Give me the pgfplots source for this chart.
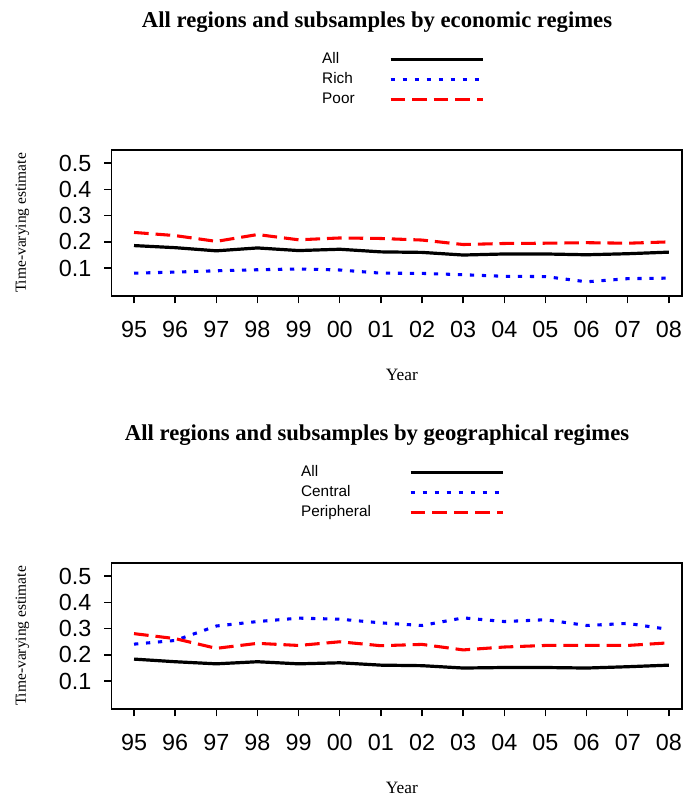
\documentclass[border=0pt]{standalone}
\usepackage{pgfplots}
\pgfplotsset{compat=1.18}
\usepackage{fontspec}
\setmainfont{Liberation Serif}
\newfontfamily\arialfont{Liberation Sans}

\pgfplotsset{
  regstyle/.style={
    scale only axis, width=428pt, height=109.5pt,
    xmin=-0.55, xmax=13.32, ymin=-0.006, ymax=0.55,
    xtick={0,...,13},
    xticklabels={95,96,97,98,99,00,01,02,03,04,05,06,07,08},
    ytick={0.1,0.2,0.3,0.4,0.5},
    yticklabels={0.1,0.2,0.3,0.4,0.5},
    tick pos=left, tick align=outside, major tick length=5.5pt,
    tick style={line width=1.1pt, black},
    axis line style={line width=1.1pt, black},
    /pgf/number format/assume math mode=true,
    ticklabel style={font=\arialfont\fontsize{17.5}{19}\selectfont},
    xticklabel style={yshift=-10pt},
    yticklabel style={xshift=-6pt},
    xlabel={Year},
    xlabel style={at={(axis description cs:0.509,-0.54)}, anchor=center, font=\fontsize{13}{15}\selectfont},
    ylabel={Time-varying estimate},
    ylabel style={at={(axis description cs:-0.156,0.5)}, anchor=center, font=\fontsize{11.6}{13}\selectfont},
    title style={at={(axis description cs:0.4655,1.82)}, anchor=center, font=\bfseries\fontsize{17}{20}\selectfont},
    legend plot pos=right,
    legend cell align=left,
    legend image code/.code={\draw[#1] (0pt,0pt) -- (69pt,0pt);},
    legend style={draw=none, fill=none, anchor=north west,
      font=\arialfont\fontsize{11.5}{13}\selectfont,
      nodes={inner sep=0pt, text height=8.5pt, text depth=2.5pt},
      row sep=4pt},
  },
  allline/.style={black, line width=2.4pt},
  dotline/.style={blue, line width=2.3pt, dash pattern=on 3.2pt off 5.8pt},
  dashline/.style={red, line width=2.3pt, dash pattern=on 11pt off 5.2pt},
}

\begin{document}
\begin{tikzpicture}
\useasboundingbox (0pt,0pt) rectangle (511.5pt,597pt);

\begin{axis}[regstyle, at={(83.55pt,375pt)}, anchor=south west,
  title={All regions and subsamples by economic regimes},
  legend style={at={(axis description cs:0.362,1.691)}, column sep=25.7pt}]
\addplot[allline] coordinates {
(0,0.186) (1,0.178) (2,0.166) (3,0.177) (4,0.167) (5,0.172) (6,0.162)
(7,0.160) (8,0.150) (9,0.154) (10,0.154) (11,0.151) (12,0.155) (13,0.161)};
\addlegendentry{All}
\addplot[dotline] coordinates {
(0,0.081) (1,0.085) (2,0.090) (3,0.094) (4,0.097) (5,0.093) (6,0.081)
(7,0.080) (8,0.075) (9,0.069) (10,0.068) (11,0.048) (12,0.060) (13,0.062)};
\addlegendentry{Rich}
\addplot[dashline] coordinates {
(0,0.236) (1,0.224) (2,0.202) (3,0.228) (4,0.208) (5,0.215) (6,0.213)
(7,0.207) (8,0.190) (9,0.194) (10,0.195) (11,0.197) (12,0.195) (13,0.200)};
\addlegendentry{Poor}
\end{axis}

\begin{axis}[regstyle, at={(83.55pt,65.25pt)}, anchor=south west,
  title={All regions and subsamples by geographical regimes},
  legend style={at={(axis description cs:0.325,1.691)}, column sep=28.5pt}]
\addplot[allline] coordinates {
(0,0.184) (1,0.174) (2,0.166) (3,0.174) (4,0.166) (5,0.170) (6,0.161)
(7,0.159) (8,0.150) (9,0.152) (10,0.152) (11,0.150) (12,0.155) (13,0.161)};
\addlegendentry{All}
\addplot[dotline] coordinates {
(0,0.241) (1,0.255) (2,0.310) (3,0.327) (4,0.340) (5,0.336) (6,0.322)
(7,0.312) (8,0.341) (9,0.327) (10,0.334) (11,0.312) (12,0.320) (13,0.297)};
\addlegendentry{Central}
\addplot[dashline] coordinates {
(0,0.281) (1,0.262) (2,0.225) (3,0.244) (4,0.236) (5,0.250) (6,0.235)
(7,0.240) (8,0.219) (9,0.230) (10,0.236) (11,0.236) (12,0.236) (13,0.246)};
\addlegendentry{Peripheral}
\end{axis}
\end{tikzpicture}
\end{document}
